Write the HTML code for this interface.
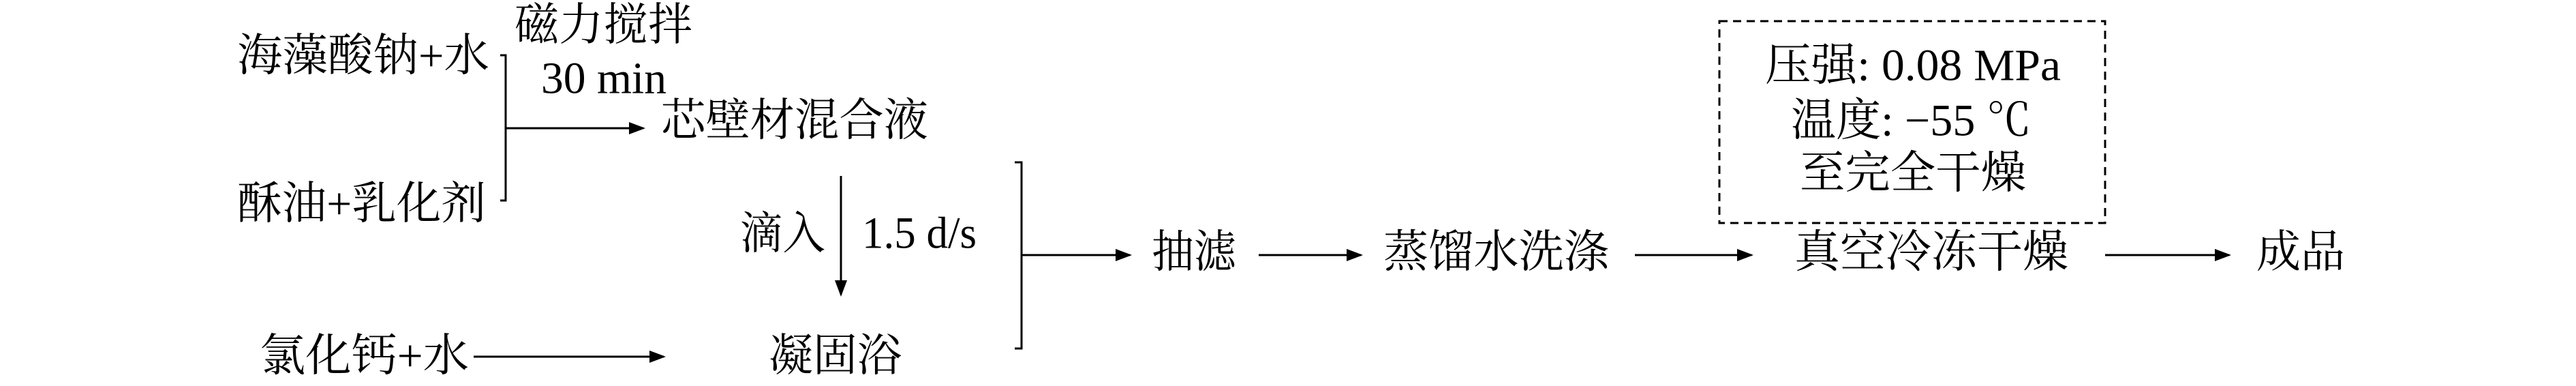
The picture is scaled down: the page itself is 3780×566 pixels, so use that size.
<!DOCTYPE html>
<html><head><meta charset="utf-8"><style>
html,body{margin:0;padding:0;background:#fff;}
svg{display:block;}
text{font-family:"Liberation Serif","Noto Serif CJK SC",serif;font-size:66px;fill:#000;dominant-baseline:central;}
</style></head><body>
<svg width="3780" height="566" viewBox="0 0 3780 566" xmlns="http://www.w3.org/2000/svg">
<defs><marker id="a" markerWidth="8" markerHeight="6" refX="7" refY="3" orient="auto" markerUnits="strokeWidth"><path d="M0,0 L8,3 L0,6 z" fill="#000"/></marker></defs>
<g stroke="#000" stroke-width="3" fill="none">
<path d="M734,81 H742 V294 H734"/>
<line x1="742" y1="188" x2="944" y2="188" marker-end="url(#a)"/>
<line x1="1234" y1="258" x2="1234" y2="432" marker-end="url(#a)"/>
<line x1="695" y1="523" x2="974" y2="523" marker-end="url(#a)"/>
<path d="M1489,238 H1499 V511 H1489"/>
<line x1="1499" y1="374" x2="1658" y2="374" marker-end="url(#a)"/>
<line x1="1847" y1="374" x2="1997" y2="374" marker-end="url(#a)"/>
<line x1="2399" y1="374" x2="2570" y2="374" marker-end="url(#a)"/>
<line x1="3089" y1="374" x2="3271" y2="374" marker-end="url(#a)"/>
<rect x="2523" y="31" width="566" height="296" stroke-dasharray="12,8"/>
</g>
<text x="348" y="82" textLength="370" lengthAdjust="spacingAndGlyphs">海藻酸钠+水</text>
<text x="755" y="37" textLength="261" lengthAdjust="spacingAndGlyphs">磁力搅拌</text>
<text x="794" y="115" textLength="184" lengthAdjust="spacingAndGlyphs">30 min</text>
<text x="970" y="177" textLength="392" lengthAdjust="spacingAndGlyphs">芯壁材混合液</text>
<text x="348" y="299" textLength="365" lengthAdjust="spacingAndGlyphs">酥油+乳化剂</text>
<text x="1086" y="343" textLength="125" lengthAdjust="spacingAndGlyphs">滴入</text>
<text x="1265" y="342" textLength="168" lengthAdjust="spacingAndGlyphs">1.5 d/s</text>
<text x="381" y="522" textLength="307" lengthAdjust="spacingAndGlyphs">氯化钙+水</text>
<text x="1128" y="522" textLength="195" lengthAdjust="spacingAndGlyphs">凝固浴</text>
<text x="1690" y="370" textLength="124" lengthAdjust="spacingAndGlyphs">抽滤</text>
<text x="2030" y="370" textLength="331" lengthAdjust="spacingAndGlyphs">蒸馏水洗涤</text>
<text x="2633" y="370" textLength="402" lengthAdjust="spacingAndGlyphs">真空冷冻干燥</text>
<text x="3311" y="370" textLength="130" lengthAdjust="spacingAndGlyphs">成品</text>
<text x="2590" y="96" textLength="434" lengthAdjust="spacingAndGlyphs">压强: 0.08 MPa</text>
<text x="2628" y="177" textLength="353" lengthAdjust="spacingAndGlyphs">温度: −55 ℃</text>
<text x="2641" y="254" textLength="332" lengthAdjust="spacingAndGlyphs">至完全干燥</text>
</svg>
</body></html>
